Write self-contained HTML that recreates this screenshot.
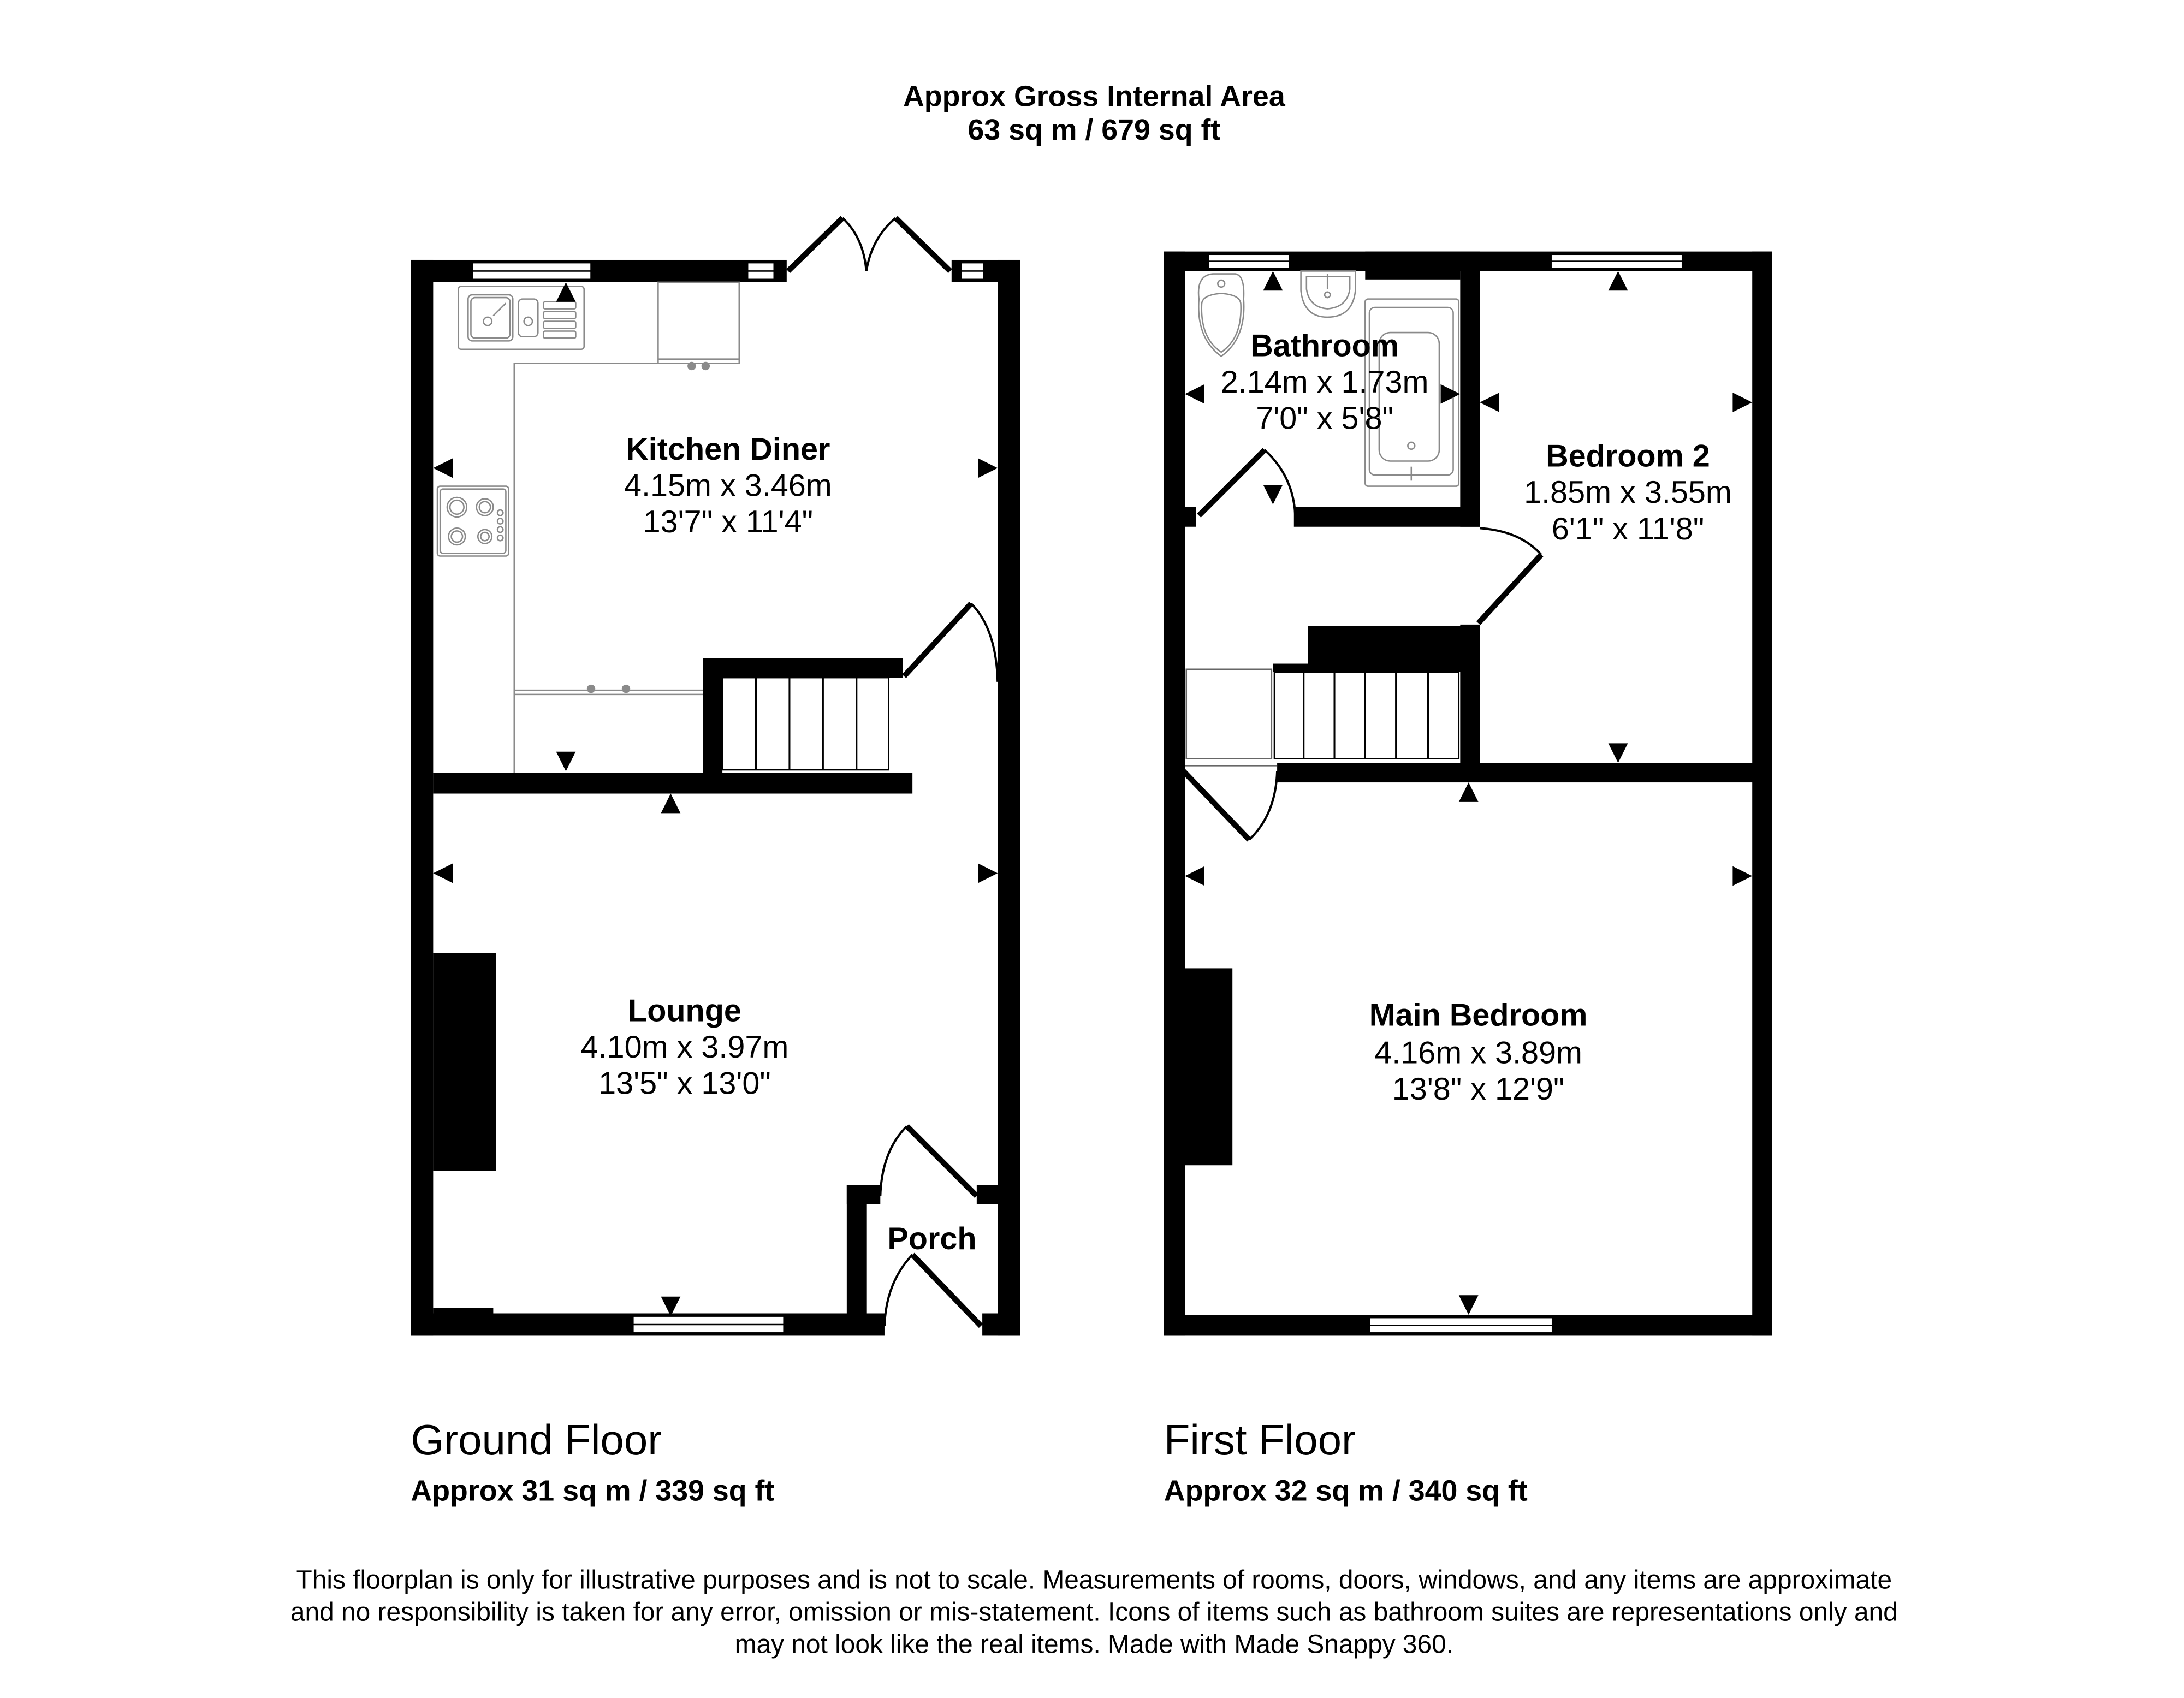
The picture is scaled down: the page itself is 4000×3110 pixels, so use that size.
<!DOCTYPE html>
<html><head><meta charset="utf-8"><style>
html,body{margin:0;padding:0;background:#fff}
svg{display:block}
text{font-family:"Liberation Sans",Arial,sans-serif;fill:#000}
.b{font-weight:bold}
.g{fill:none;stroke:#8a8a8a;stroke-width:1}
.leaf{stroke:#000;stroke-width:4;fill:none}
.arc{stroke:#000;stroke-width:1.6;fill:none}
</style></head><body>
<svg width="4000" height="3110" viewBox="0 0 1563 1215.3" preserveAspectRatio="none" xmlns="http://www.w3.org/2000/svg">
<g transform="translate(-2,-2)">
<text x="785" y="78" font-size="21" text-anchor="middle" class="b">Approx Gross Internal Area</text>
<text x="785" y="102" font-size="21" text-anchor="middle" class="b">63 sq m / 679 sq ft</text>

<g fill="#000">
<rect x="296" y="188" width="16" height="770"/>
<rect x="296" y="188" width="269" height="16"/>
<rect x="683" y="188" width="49" height="16"/>
<rect x="716" y="188" width="16" height="770"/>
<rect x="296" y="942" width="339" height="16"/>
<rect x="705" y="942" width="27" height="16"/>
<rect x="312" y="938" width="43" height="6"/>
<rect x="312" y="684" width="45" height="156"/>
<rect x="312" y="555" width="343" height="15"/>
<rect x="505" y="473" width="143" height="14"/>
<rect x="505" y="473" width="14" height="85"/>
<rect x="608" y="850" width="14" height="100"/>
<rect x="608" y="850" width="24" height="14"/>
<rect x="701" y="850" width="17" height="14"/>
</g>
<g fill="#fff" stroke="#000" stroke-width="1">
<rect x="340" y="190" width="85" height="12"/><line x1="340" y1="196" x2="425" y2="196"/>
<rect x="537" y="190" width="19" height="12"/><line x1="537" y1="196" x2="556" y2="196"/>
<rect x="690" y="190" width="16" height="12"/><line x1="690" y1="196" x2="706" y2="196"/>
<rect x="455" y="944" width="108" height="12"/><line x1="455" y1="950" x2="563" y2="950"/>
</g>
<rect x="519" y="487" width="119" height="66" fill="#fff" stroke="#000" stroke-width="1"/>
<g stroke="#000" stroke-width="1.2">
<line x1="543" y1="487" x2="543" y2="553"/><line x1="567" y1="487" x2="567" y2="553"/>
<line x1="591" y1="487" x2="591" y2="553"/><line x1="615" y1="487" x2="615" y2="553"/>
</g>
<path class="leaf" d="M566,196 L605,158"/><path class="arc" d="M605,158 Q620,172 622,196"/>
<path class="leaf" d="M682,196 L643,158"/><path class="arc" d="M643,158 Q626,172 622,196"/>
<path class="leaf" d="M649,486 L697,434"/><path class="arc" d="M697,434 Q715,452 716,490"/>
<path class="leaf" d="M651,808 L701,858"/><path class="arc" d="M651,808 Q633,826 632,858"/>
<path class="leaf" d="M655,900 L704,951"/><path class="arc" d="M655,900 Q636,920 635,951"/>
<g class="g">
<path d="M370,555 L370,262 L473,262"/>
<rect x="473" y="204" width="58" height="58"/><line x1="473" y1="259" x2="531" y2="259"/>
<path d="M370,496 L505,496"/><line x1="370" y1="499" x2="505" y2="499"/>
<rect x="330" y="207" width="90" height="45" rx="2"/>
<rect x="337" y="213" width="32" height="33" rx="3"/><rect x="339" y="215" width="28" height="29" rx="3"/>
<rect x="373" y="216" width="14" height="27" rx="3"/>
<circle cx="351" cy="232" r="3"/><circle cx="380" cy="232" r="3"/>
<line x1="355" y1="228" x2="364" y2="219"/>
<rect x="391" y="218" width="23" height="5" rx="1"/><rect x="391" y="225" width="23" height="5" rx="1"/>
<rect x="391" y="232" width="23" height="5" rx="1"/><rect x="391" y="239" width="23" height="5" rx="1"/>
<rect x="315" y="350" width="51" height="50" rx="2"/><rect x="317" y="352" width="47" height="46" rx="2"/>
<circle cx="329" cy="365" r="7"/><circle cx="329" cy="365" r="5"/>
<circle cx="349" cy="365" r="6"/><circle cx="349" cy="365" r="4"/>
<circle cx="329" cy="386" r="6"/><circle cx="329" cy="386" r="4"/>
<circle cx="349" cy="386" r="5"/><circle cx="349" cy="386" r="3"/>
<circle cx="360" cy="369" r="2"/><circle cx="360" cy="375" r="2"/><circle cx="360" cy="381" r="2"/><circle cx="360" cy="387" r="2"/>
</g>
<g fill="#8a8a8a"><circle cx="497" cy="264" r="3"/><circle cx="507" cy="264" r="3"/><circle cx="425" cy="495" r="3"/><circle cx="450" cy="495" r="3"/></g>
<g fill="#000">
<path d="M400,218 L414,218 L407,204 Z"/>
<path d="M400,540 L414,540 L407,554 Z"/>
<path d="M312,337 L326,330 L326,344 Z"/>
<path d="M716,337 L702,330 L702,344 Z"/>
<path d="M475,584 L489,584 L482,570 Z"/>
<path d="M312,627 L326,620 L326,634 Z"/>
<path d="M716,627 L702,620 L702,634 Z"/>
<path d="M475,930 L489,930 L482,944 Z"/>
</g>
<text x="523" y="331" font-size="22.5" text-anchor="middle" class="b">Kitchen Diner</text>
<text x="523" y="357" font-size="22.5" text-anchor="middle">4.15m x 3.46m</text>
<text x="523" y="383" font-size="22.5" text-anchor="middle">13'7" x 11'4"</text>
<text x="492" y="733" font-size="22.5" text-anchor="middle" class="b">Lounge</text>
<text x="492" y="759" font-size="22.5" text-anchor="middle">4.10m x 3.97m</text>
<text x="492" y="785" font-size="22.5" text-anchor="middle">13'5" x 13'0"</text>
<text x="669" y="896" font-size="22.5" text-anchor="middle" class="b">Porch</text>

<g fill="#000">
<rect x="835" y="182" width="15" height="776"/>
<rect x="835" y="182" width="435" height="14"/>
<rect x="979" y="182" width="68" height="20"/>
<rect x="1256" y="182" width="14" height="776"/>
<rect x="835" y="943" width="435" height="15"/>
<rect x="1047" y="182" width="14" height="197"/>
<rect x="1047" y="449" width="14" height="110"/>
<rect x="928" y="365" width="133" height="14"/>
<rect x="846" y="365" width="12" height="14"/>
<rect x="916" y="548" width="354" height="14"/>
<rect x="938" y="450" width="123" height="28"/>
<rect x="913" y="477" width="148" height="6"/>
<rect x="850" y="695" width="34" height="141"/>
</g>
<g fill="#fff" stroke="#000" stroke-width="1">
<rect x="867" y="184" width="58" height="10"/><line x1="867" y1="189" x2="925" y2="189"/>
<rect x="1112" y="184" width="94" height="10"/><line x1="1112" y1="189" x2="1206" y2="189"/>
<rect x="982" y="945" width="131" height="11"/><line x1="982" y1="950.5" x2="1113" y2="950.5"/>
</g>
<rect x="914" y="483" width="132" height="62" fill="#fff" stroke="#000" stroke-width="1"/>
<g stroke="#000" stroke-width="1.2">
<line x1="935" y1="483" x2="935" y2="545"/><line x1="957" y1="483" x2="957" y2="545"/>
<line x1="979" y1="483" x2="979" y2="545"/><line x1="1001" y1="483" x2="1001" y2="545"/>
<line x1="1024" y1="483" x2="1024" y2="545"/>
</g>
<rect x="851" y="481" width="61" height="64" fill="none" stroke="#666" stroke-width="1"/>
<line x1="850" y1="550" x2="916" y2="550" stroke="#666" stroke-width="1"/>
<path class="leaf" d="M860,371 L907,324"/><path class="arc" d="M907,324 Q928,343 929,372"/>
<path class="leaf" d="M849,554 L896,603"/><path class="arc" d="M896,603 Q915,585 916,554"/>
<path class="leaf" d="M1060,448 L1105,399"/><path class="arc" d="M1105,399 Q1090,382 1061,380"/>
<g class="g">
<path d="M860,216 Q858,199 870,198 L886,198 Q893,199 892,216 Q894,244 876,257 Q858,244 860,216 Z"/>
<path d="M862,220 Q862,213 876,212 Q890,213 890,220 Q891,244 876,254 Q861,244 862,220 Z"/>
<circle cx="876" cy="205" r="2.5"/>
<path d="M933,196 L972,196 L972,210 Q970,229 952,229 Q935,229 933,210 Z"/>
<path d="M937,200 L968,200 L968,209 Q966,222 952,223 Q939,222 937,209 Z"/>
<circle cx="952" cy="213" r="2"/><line x1="952" y1="198" x2="952" y2="209"/>
<rect x="979" y="216" width="67" height="134" rx="2"/>
<rect x="982" y="222" width="60" height="120" rx="4"/>
<rect x="989" y="240" width="43" height="92" rx="8"/>
<circle cx="1012" cy="321" r="2.5"/><line x1="1012" y1="336" x2="1012" y2="346"/>
</g>
<g fill="#000">
<path d="M906,210 L920,210 L913,196 Z"/>
<path d="M906,349 L920,349 L913,363 Z"/>
<path d="M850,284 L864,277 L864,291 Z"/>
<path d="M1047,284 L1033,277 L1033,291 Z"/>
<path d="M1061,290 L1075,283 L1075,297 Z"/>
<path d="M1256,290 L1242,283 L1242,297 Z"/>
<path d="M1153,210 L1167,210 L1160,196 Z"/>
<path d="M1153,534 L1167,534 L1160,548 Z"/>
<path d="M1046,576 L1060,576 L1053,562 Z"/>
<path d="M850,629 L864,622 L864,636 Z"/>
<path d="M1256,629 L1242,622 L1242,636 Z"/>
<path d="M1046,929 L1060,929 L1053,943 Z"/>
</g>
<text x="950" y="257" font-size="22.5" text-anchor="middle" class="b">Bathroom</text>
<text x="950" y="283" font-size="22.5" text-anchor="middle">2.14m x 1.73m</text>
<text x="950" y="309" font-size="22.5" text-anchor="middle">7'0" x 5'8"</text>
<text x="1167" y="336" font-size="22.5" text-anchor="middle" class="b">Bedroom 2</text>
<text x="1167" y="362" font-size="22.5" text-anchor="middle">1.85m x 3.55m</text>
<text x="1167" y="388" font-size="22.5" text-anchor="middle">6'1" x 11'8"</text>
<text x="1060" y="736" font-size="22.5" text-anchor="middle" class="b">Main Bedroom</text>
<text x="1060" y="763" font-size="22.5" text-anchor="middle">4.16m x 3.89m</text>
<text x="1060" y="789" font-size="22.5" text-anchor="middle">13'8" x 12'9"</text>

<text x="296" y="1043" font-size="30.5">Ground Floor</text>
<text x="296" y="1076" font-size="21" class="b">Approx 31 sq m / 339 sq ft</text>
<text x="835" y="1043" font-size="30.5">First Floor</text>
<text x="835" y="1076" font-size="21" class="b">Approx 32 sq m / 340 sq ft</text>
<text x="785" y="1139" font-size="18.7" text-anchor="middle">This floorplan is only for illustrative purposes and is not to scale. Measurements of rooms, doors, windows, and any items are approximate</text>
<text x="785" y="1162" font-size="18.7" text-anchor="middle">and no responsibility is taken for any error, omission or mis-statement. Icons of items such as bathroom suites are representations only and</text>
<text x="785" y="1185" font-size="18.7" text-anchor="middle">may not look like the real items. Made with Made Snappy 360.</text>
</g>
</svg>
</body></html>
